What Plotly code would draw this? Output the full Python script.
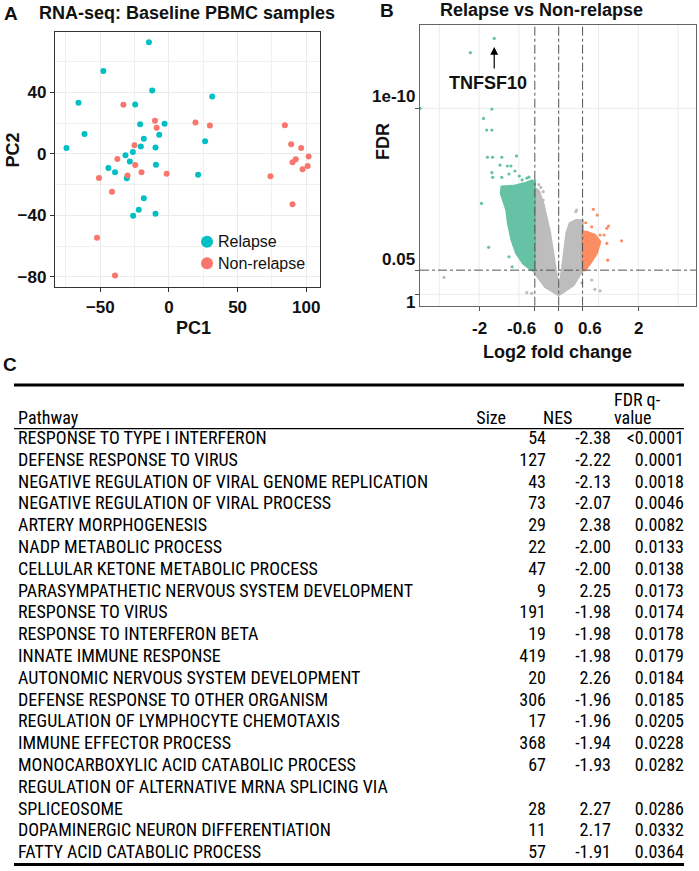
import textwrap
import plotly.graph_objects as go

W, H = 699, 871

# ---------------- Panel A: PCA of baseline PBMC samples ----------------
relapse_pc1 = [-14.6, -47.8, -12.2, -65.9, -24.6, 31.5, -61.5, -21.0, -3.2, -7.1, -18.3, -20.5, -9.8,
               -74.6, 26.3, -26.3, -31.7, -28.5, -9.5, -44.1, -39.3, -30.7, 21.2, -18.3, -22.0, -26.1, -9.8]
relapse_pc2 = [72.6, 53.9, 41.3, 33.3, 32.2, 37.4, 13.0, 19.3, 19.6, 12.4, 9.8, 4.8, 4.1,
               3.9, 8.3, 1.3, -0.9, -5.0, -7.0, -9.1, -12.0, -15.9, -13.5, -28.9, -36.3, -40.2, -38.9]
nonrelapse_pc1 = [-33.2, -10.2, -9.0, 19.3, 29.8, 84.4, -25.1, 89.0, 96.3, 101.7, 92.4, 90.0, 101.0,
                  97.3, -37.6, -24.6, -20.0, -30.2, -1.7, -51.0, 73.9, -41.5, 90.0, -52.4, -39.3]
nonrelapse_pc2 = [32.0, 21.5, 17.0, 20.4, 18.5, 18.7, 5.7, 6.3, 3.9, -1.7, -3.5, -5.4, -7.8,
                  -10.0, -3.3, -7.2, -12.0, -14.1, -13.0, -15.7, -14.6, -24.6, -32.8, -54.6, -79.1]
group_names = ["Relapse", "Non-relapse"]
pca_xticks = [-50, 0, 50, 100]
pca_yticks = [-80, -40, 0, 40]

# ---------------- Panel B: volcano (log2FC vs -log10 FDR) ----------------
vol_xticks = [-2, -0.6, 0, 0.6, 2]
vol_xticklabels = ["-2", "-0.6", "0", "0.6", "2"]
vol_yticks = [0, 1.30103, 10]
vol_yticklabels = ["1", "0.05", "1e-10"]
vol_grid_x = [-3, -2, -1, 0, 1, 2, 3]
fc_cuts = [-0.6, 0, 0.6]
fdr_cut = 1.30103

down_x = [-1.62, -2.22, -3.48, -1.68, -1.89, -1.81, -1.68, -1.79, -1.66, -1.43, -1.06, -1.475,
          -1.29, -1.20, -1.68, -1.66, -1.43, -1.25, -1.10, -0.99, -1.94, -1.76, -1.25, -1.17,
          -0.80, -0.75, -0.92]
down_y = [13.76, 12.99, 10.0, 9.96, 9.46, 8.83, 8.83, 7.37, 7.37, 7.37, 7.44, 6.95,
          6.90, 6.90, 6.54, 6.29, 6.29, 6.47, 6.63, 6.36, 4.89, 2.53, 2.02, 1.48,
          6.25, 6.3, 6.15]
up_x = [0.87, 0.97, 0.68, 0.83, 1.21, 1.25, 1.04, 1.14, 1.21, 1.58, 1.23, 0.89]
up_y = [4.57, 4.26, 3.85, 3.63, 3.55, 3.67, 3.19, 3.19, 2.74, 2.88, 1.84, 3.13]
ns_x = [-0.39, -0.39, 0.43, 0.45, 0.83, 0.91, 1.04, 0.58, -0.80, -0.68, -2.88, -0.50, -0.45]
ns_y = [5.52, 5.07, 4.44, 4.53, 0.77, 0.27, 0.19, 0.62, 0.09, 0.05, 0.91, 5.90, 5.75]

# dense point clouds (outline of the overplotted regions)
down_cloud_x = [-0.6, -0.6, -0.68, -0.85, -1.14, -1.43, -1.45, -1.31, -1.27, -1.18, -1.06, -0.89, -0.68, -0.6]
down_cloud_y = [1.30, 6.10, 6.11, 5.97, 5.82, 5.79, 5.43, 4.53, 3.82, 2.92, 2.20, 1.67, 1.31, 1.30]
ns_cloud_x = [-0.6, -0.6, -0.5, -0.39, -0.22, -0.12, -0.04, 0.0, 0.04, 0.12, 0.20, 0.28, 0.45, 0.6,
              0.6, 0.37, 0.08, 0.0, -0.34, -0.65, -0.6]
ns_cloud_y = [1.30, 5.70, 5.55, 4.89, 3.28, 1.84, 0.59, 0.23, 0.59, 1.84, 3.28, 3.82, 4.00, 3.95,
              1.30, 0.50, 0.05, -0.04, 0.41, 1.31, 1.30]
up_cloud_x = [0.6, 0.6, 0.70, 0.91, 1.04, 0.95, 0.79, 0.66, 0.6]
up_cloud_y = [1.30, 3.37, 3.35, 3.19, 2.83, 2.20, 1.67, 1.31, 1.30]
label_gene = "TNFSF10"
label_gene_fc, label_gene_fdr = -1.62, 13.76

# ---------------- Panel C: GSEA table ----------------
pathways = [
    "RESPONSE TO TYPE I INTERFERON",
    "DEFENSE RESPONSE TO VIRUS",
    "NEGATIVE REGULATION OF VIRAL GENOME REPLICATION",
    "NEGATIVE REGULATION OF VIRAL PROCESS",
    "ARTERY MORPHOGENESIS",
    "NADP METABOLIC PROCESS",
    "CELLULAR KETONE METABOLIC PROCESS",
    "PARASYMPATHETIC NERVOUS SYSTEM DEVELOPMENT",
    "RESPONSE TO VIRUS",
    "RESPONSE TO INTERFERON BETA",
    "INNATE IMMUNE RESPONSE",
    "AUTONOMIC NERVOUS SYSTEM DEVELOPMENT",
    "DEFENSE RESPONSE TO OTHER ORGANISM",
    "REGULATION OF LYMPHOCYTE CHEMOTAXIS",
    "IMMUNE EFFECTOR PROCESS",
    "MONOCARBOXYLIC ACID CATABOLIC PROCESS",
    "REGULATION OF ALTERNATIVE MRNA SPLICING VIA SPLICEOSOME",
    "DOPAMINERGIC NEURON DIFFERENTIATION",
    "FATTY ACID CATABOLIC PROCESS",
]
sizes = [54, 127, 43, 73, 29, 22, 47, 9, 191, 19, 419, 20, 306, 17, 368, 67, 28, 11, 57]
nes = [-2.38, -2.22, -2.13, -2.07, 2.38, -2.00, -2.00, 2.25, -1.98, -1.98, -1.98, 2.26, -1.96,
       -1.96, -1.94, -1.93, 2.27, 2.17, -1.91]
fdr_q = ["<0.0001", "0.0001", "0.0018", "0.0046", "0.0082", "0.0133", "0.0138", "0.0173", "0.0174",
         "0.0178", "0.0179", "0.0184", "0.0185", "0.0205", "0.0228", "0.0282", "0.0286", "0.0332", "0.0364"]

# ---------------- styling constants ----------------
TEAL, SALMON = "#00BFC4", "#F8766D"
GREEN, ORANGE, GREY = "#66C2A5", "#FC8D62", "#BDBDBD"
BOLD = dict(family="Liberation Sans, Arial, sans-serif", size=18, color="#111111", weight="bold")
TICK = dict(family="Liberation Sans, Arial, sans-serif", size=17, color="#111111", weight="bold")
TAB = dict(family="Liberation Sans Narrow, Arial Narrow, Roboto Condensed, Roboto, sans-serif",
           size=18, color="#000000")


def px(x):
    return x / W


def py(y):
    return 1 - y / H


fig = go.Figure()

# Panel A
fig.add_trace(go.Scatter(x=relapse_pc1, y=relapse_pc2, mode="markers", name=group_names[0],
                         marker=dict(color=TEAL, size=6), xaxis="x", yaxis="y", showlegend=False))
fig.add_trace(go.Scatter(x=nonrelapse_pc1, y=nonrelapse_pc2, mode="markers", name=group_names[1],
                         marker=dict(color=SALMON, size=6), xaxis="x", yaxis="y", showlegend=False))

# Panel B clouds and points
for cx, cy, col in [(ns_cloud_x, ns_cloud_y, GREY), (down_cloud_x, down_cloud_y, GREEN),
                    (up_cloud_x, up_cloud_y, ORANGE)]:
    fig.add_trace(go.Scatter(x=cx, y=cy, mode="lines", fill="toself", fillcolor=col,
                             line=dict(color=col, width=2.5), showlegend=False, hoverinfo="skip",
                             xaxis="x2", yaxis="y2"))
for vx, vy, col in [(ns_x, ns_y, GREY), (down_x, down_y, GREEN), (up_x, up_y, ORANGE)]:
    fig.add_trace(go.Scatter(x=vx, y=vy, mode="markers", marker=dict(color=col, size=3.2),
                             showlegend=False, xaxis="x2", yaxis="y2"))

# Panel C table as text on a hidden axis (row units)
line_idx = []
name_lines, name_pos = [], []
cur = 0
for name in pathways:
    parts = textwrap.wrap(name, 50)
    for p in parts:
        name_lines.append(p)
        name_pos.append(cur)
        cur += 1
    line_idx.append(cur - 1)
last_line = cur - 1

COL_NAME, COL_SIZE, COL_NES, COL_FDR = 18, 546, 611, 684
fig.add_trace(go.Scatter(x=[COL_NAME] * len(name_lines), y=name_pos, text=name_lines, mode="text",
                         textposition="middle right", textfont=TAB, showlegend=False,
                         xaxis="x3", yaxis="y3", hoverinfo="skip"))
fig.add_trace(go.Scatter(x=[COL_SIZE] * len(sizes), y=line_idx, text=[str(s) for s in sizes],
                         mode="text", textposition="middle left", textfont=TAB, showlegend=False,
                         xaxis="x3", yaxis="y3", hoverinfo="skip"))
fig.add_trace(go.Scatter(x=[COL_NES] * len(nes), y=line_idx, text=[f"{v:.2f}" for v in nes],
                         mode="text", textposition="middle left", textfont=TAB, showlegend=False,
                         xaxis="x3", yaxis="y3", hoverinfo="skip"))
fig.add_trace(go.Scatter(x=[COL_FDR] * len(fdr_q), y=line_idx, text=fdr_q,
                         mode="text", textposition="middle left", textfont=TAB, showlegend=False,
                         xaxis="x3", yaxis="y3", hoverinfo="skip"))
# header
fig.add_trace(go.Scatter(x=[COL_NAME, 506, 543, 614, 614], y=[-0.93, -0.93, -0.93, -1.75, -0.93],
                         text=["Pathway", "Size", "NES", "FDR q-", "value"], mode="text",
                         textposition=["middle right", "middle left", "middle right", "middle right",
                                       "middle right"],
                         textfont=TAB, showlegend=False, xaxis="x3", yaxis="y3", hoverinfo="skip"))

shapes = []
# table rules
shapes.append(dict(type="line", xref="x3", yref="y3", x0=14, x1=684, y0=-2.5, y1=-2.5,
                   line=dict(color="#000", width=3)))
shapes.append(dict(type="line", xref="x3", yref="y3", x0=14, x1=684, y0=-0.5, y1=-0.5,
                   line=dict(color="#000", width=1.3)))
shapes.append(dict(type="line", xref="x3", yref="y3", x0=14, x1=684, y0=last_line + 0.5,
                   y1=last_line + 0.5, line=dict(color="#000", width=3)))
# volcano grid
for gx in vol_grid_x:
    shapes.append(dict(type="line", xref="x2", yref="y2 domain", x0=gx, x1=gx, y0=0, y1=1,
                       layer="below", line=dict(color="#EBEBEB", width=1)))
for gy in [vol_yticks[0], vol_yticks[2]]:
    shapes.append(dict(type="line", xref="x2 domain", yref="y2", x0=0, x1=1, y0=gy, y1=gy,
                       layer="below", line=dict(color="#EBEBEB", width=1)))
for c in fc_cuts:
    shapes.append(dict(type="line", xref="x2", yref="y2 domain", x0=c, x1=c, y0=0, y1=1,
                       layer="above", line=dict(color="#555555", width=1, dash="dashdot")))
shapes.append(dict(type="line", xref="x2 domain", yref="y2", x0=0, x1=1, y0=fdr_cut, y1=fdr_cut,
                   layer="above", line=dict(color="#555555", width=1, dash="dashdot")))
# legend glyphs for panel A
for (lyp, col) in [(241.7, TEAL), (263.3, SALMON)]:
    shapes.append(dict(type="circle", xref="paper", yref="paper", x0=px(201), x1=px(213),
                       y0=py(lyp + 6), y1=py(lyp - 6), fillcolor=col, line=dict(width=0)))

ann = []


def lab(text, x, y, font=BOLD, **kw):
    d = dict(text=text, x=x, y=y, xref="paper", yref="paper", showarrow=False, font=font,
             xanchor="center", yanchor="middle")
    d.update(kw)
    ann.append(d)


# panel letters & titles
lab("A", px(11), py(13), font=dict(BOLD, size=19))
lab("RNA-seq: Baseline PBMC samples", px(187), py(13))
lab("B", px(387), py(10), font=dict(BOLD, size=19))
lab("Relapse vs Non-relapse", px(541), py(10))
lab("C", px(10), py(365), font=dict(BOLD, size=19))
# axis titles
lab("PC1", px(193), py(328))
lab("PC2", px(12.5), py(150), textangle=-90)
lab("Log2 fold change", px(557), py(352))
lab("FDR", px(383), py(142), textangle=-90)
# legend text
LEG = dict(family="Liberation Sans, Arial, sans-serif", size=16, color="#111111")
lab(group_names[0], px(216), py(241.7), font=LEG, xanchor="left")
lab(group_names[1], px(216), py(263.3), font=LEG, xanchor="left")

# volcano tick labels (nudged as in the original)
x_shift = [0, -13, 0, 7, 0]
for v, t, s in zip(vol_xticks, vol_xticklabels, x_shift):
    ann.append(dict(text=t, x=v, xref="x2", y=py(328), yref="paper", xshift=s, showarrow=False,
                    font=TICK, xanchor="center", yanchor="middle"))
y_shift = [-8, 11, 12]
for v, t, s in zip(vol_yticks, vol_yticklabels, y_shift):
    ann.append(dict(text=t, x=px(417), xref="paper", xanchor="right", y=v, yref="y2", yshift=s,
                    yanchor="middle", showarrow=False, font=TICK))
# gene label
ann.append(dict(text="", x=label_gene_fc, y=13.3, xref="x2", yref="y2", ax=label_gene_fc, ay=12.06,
                axref="x2", ayref="y2", showarrow=True, arrowhead=2, arrowsize=1.3, arrowwidth=1.2,
                arrowcolor="#000"))
ann.append(dict(text=label_gene, x=-1.78, y=11.38, xref="x2", yref="y2", showarrow=False, font=BOLD,
                xanchor="center", yanchor="middle"))

axis_common = dict(showline=True, mirror=True, zeroline=False, ticks="outside", ticklen=4,
                   tickwidth=1)

fig.update_layout(
    width=W, height=H, autosize=False,
    margin=dict(l=0, r=0, t=0, b=0),
    paper_bgcolor="white", plot_bgcolor="white",
    showlegend=False,
    xaxis=dict(axis_common, domain=[px(55), px(320)], range=[-83, 110], anchor="y",
               tickvals=pca_xticks, tickfont=TICK, linecolor="#333", linewidth=1.3, tickcolor="#333",
               showgrid=True, gridcolor="#EBEBEB", gridwidth=1.1,
               minor=dict(tick0=0, dtick=25, showgrid=True, gridcolor="#F0F0F0", gridwidth=0.6)),
    yaxis=dict(axis_common, domain=[py(287), py(31.7)], range=[-86.6, 79.5], anchor="x",
               tickvals=pca_yticks, tickfont=TICK, linecolor="#333", linewidth=1.3, tickcolor="#333",
               showgrid=True, gridcolor="#EBEBEB", gridwidth=1.1,
               minor=dict(tick0=0, dtick=20, showgrid=True, gridcolor="#F0F0F0", gridwidth=0.6)),
    xaxis2=dict(axis_common, domain=[px(420), px(696)], range=[-3.485, 3.45], anchor="y2",
                tickvals=vol_xticks, showticklabels=False, showgrid=False, linecolor="#666",
                linewidth=1.3, tickcolor="#555"),
    yaxis2=dict(axis_common, domain=[py(305.7), py(25)], range=[-0.61, 14.48], anchor="x2",
                tickvals=vol_yticks, showticklabels=False, showgrid=False, linecolor="#666",
                linewidth=1.3, tickcolor="#555"),
    xaxis3=dict(domain=[0, 1], range=[0, W], visible=False, anchor="y3", fixedrange=True),
    yaxis3=dict(domain=[0, py(375)], range=[19.794, -2.959], visible=False, anchor="x3",
                fixedrange=True),
    shapes=shapes,
    annotations=ann,
)

fig.write_html("out.html", config={"displayModeBar": False},
               post_script="document.body.style.margin='0px';document.body.style.overflow='hidden';")
